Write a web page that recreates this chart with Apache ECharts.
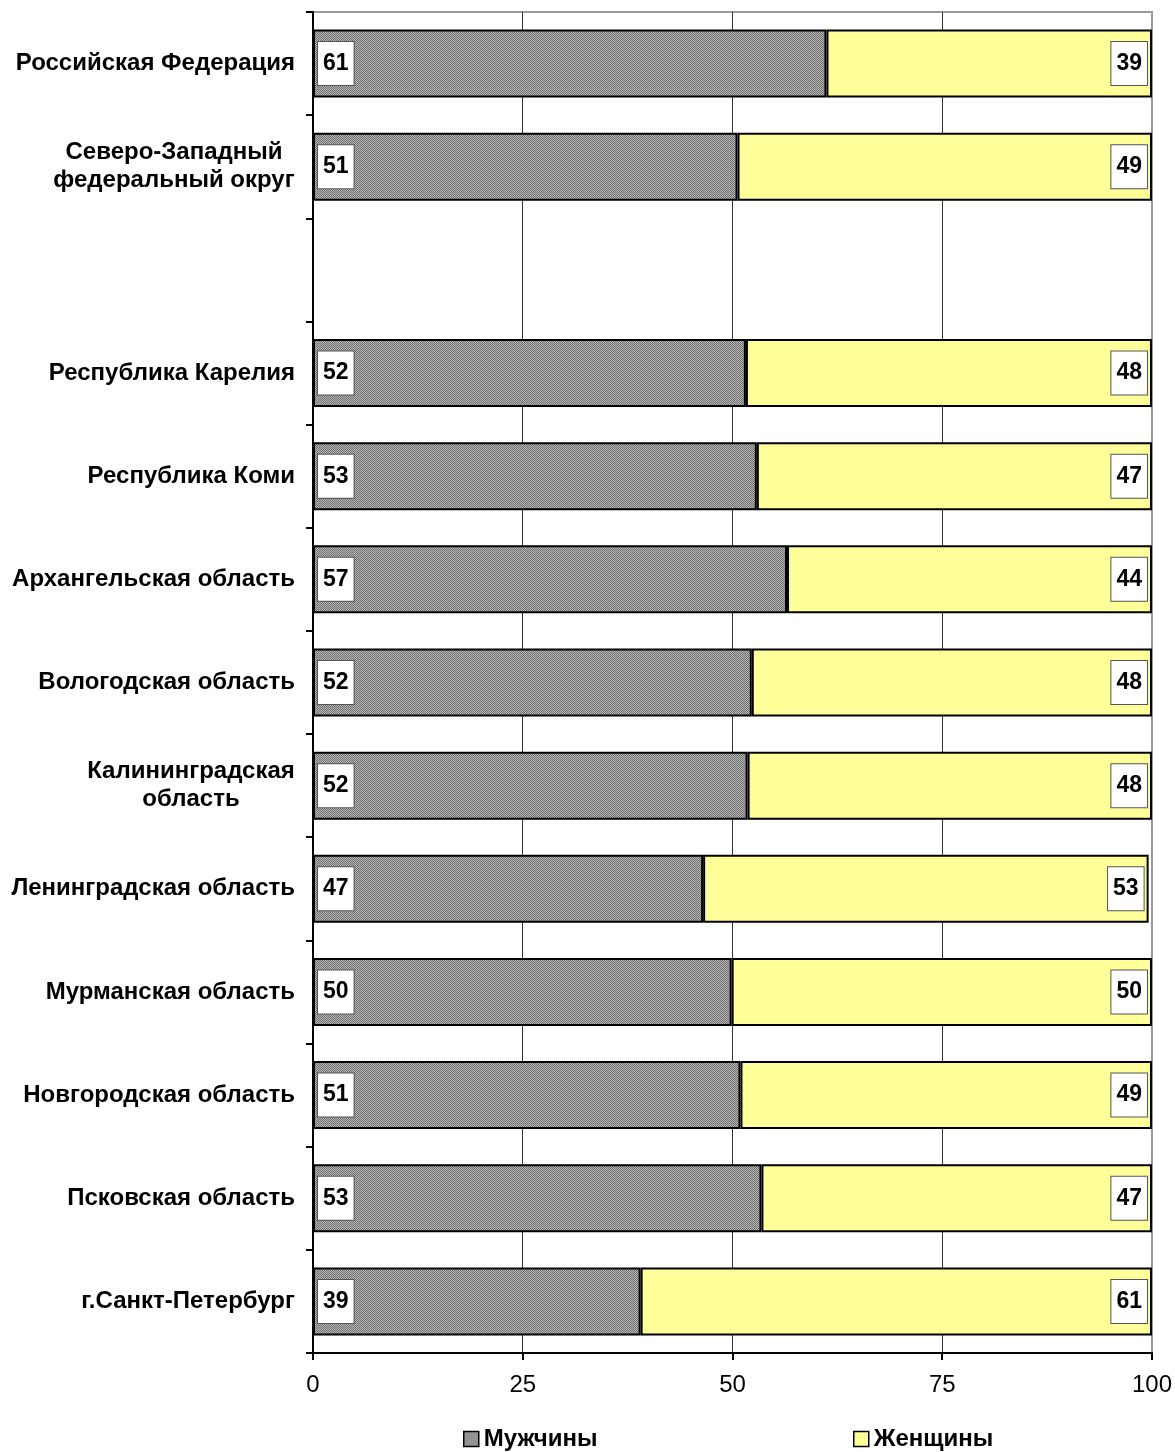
<!DOCTYPE html>
<html>
<head>
<meta charset="utf-8">
<script src="https://cdn.jsdelivr.net/npm/echarts@6/dist/echarts.min.js"></script>
<style>
html, body { margin: 0; padding: 0; background: #fff; }
#main { width: 1175px; height: 1452px; }
</style>
</head>
<body>
<div id="main"></div>
<script>
// категории (сверху вниз), пустая строка - разрыв
var categories = [
	'Российская Федерация',
	'Северо-Западный\nфедеральный округ',
	'',
	'Республика Карелия',
	'Республика Коми',
	'Архангельская область',
	'Вологодская область',
	'Калининградская\nобласть',
	'Ленинградская область',
	'Мурманская область',
	'Новгородская область',
	'Псковская область',
	'г.Санкт-Петербург'
];
var menValues = [61.2, 50.6, '-', 51.6, 52.9, 56.5, 52.3, 51.8, 46.5, 49.9, 50.95, 53.45, 39.05];
var womenValues = [38.8, 49.4, '-', 48.4, 47.1, 43.5, 47.7, 48.2, 53.1, 50.1, 49.05, 46.55, 60.95];
var xTicks = [0, 25, 50, 75, 100];

var FONT = '"Liberation Sans", Arial, sans-serif';

// точечная заливка для мужчин
function makePattern() {
	var c = document.createElement('canvas');
	c.width = 2; c.height = 2;
	var ctx = c.getContext('2d');
	ctx.fillStyle = '#b4b4b4';
	ctx.fillRect(0, 0, 2, 2);
	ctx.fillStyle = '#727272';
	ctx.fillRect(0, 0, 1, 1);
	ctx.fillRect(1, 1, 1, 1);
	return c;
}
var menFill = { image: makePattern(), repeat: 'repeat' };

// многострочные подписи - строки по центру блока
var measureCtx = document.createElement('canvas').getContext('2d');
measureCtx.font = 'bold 24px ' + FONT;
var rich = {};
categories.forEach(function (name, i) {
	if (name.indexOf('\n') >= 0) {
		var w = 0;
		name.split('\n').forEach(function (s) {
			w = Math.max(w, measureCtx.measureText(s).width);
		});
		rich['c' + i] = { width: Math.ceil(w), align: 'center', fontWeight: 'bold', fontSize: 24, fontFamily: FONT, color: '#000', lineHeight: 28 };
	}
});

var labelBox = {
	show: true,
	formatter: function (p) { return Math.round(p.value); },
	color: '#000',
	fontWeight: 'bold',
	fontSize: 23,
	fontFamily: FONT,
	lineHeight: 24,
	backgroundColor: '#fff',
	borderColor: '#555',
	borderWidth: 1,
	padding: [10, 5, 9, 5],
	distance: 5
};

var legendText = { fontWeight: 'bold', fontSize: 24, fontFamily: FONT, color: '#000' };

var myChart = echarts.init(document.getElementById('main'));

var option = {
	backgroundColor: '#fff',
	animation: false,
	grid: {
		left: 313,
		right: 22,
		top: 12,
		bottom: 99,
		show: true,
		borderColor: '#999',
		borderWidth: 2,
		containLabel: false
	},
	legend: [
		{
			data: ['Мужчины'],
			left: 458,
			top: 1422,
			icon: 'rect',
			itemWidth: 15,
			itemHeight: 15,
			itemGap: 4,
			itemStyle: { borderColor: '#000', borderWidth: 1.5 },
			textStyle: legendText
		},
		{
			data: ['Женщины'],
			left: 848,
			top: 1422,
			icon: 'rect',
			itemWidth: 15,
			itemHeight: 15,
			itemStyle: { borderColor: '#000', borderWidth: 1.5 },
			textStyle: legendText
		}
	],
	xAxis: {
		type: 'value',
		min: 0,
		max: 100,
		interval: 25,
		axisLine: { show: true, lineStyle: { color: '#000', width: 2 } },
		axisTick: { show: true, length: 7, lineStyle: { color: '#000', width: 2 } },
		axisLabel: {
			margin: 20,
			color: '#000',
			fontSize: 24,
			fontFamily: FONT,
			formatter: function (v) { return xTicks.indexOf(v) >= 0 ? String(v) : ''; }
		},
		splitLine: { show: true, lineStyle: { color: ['#333', '#333', '#333', '#333', '#999'], width: 1 } }
	},
	yAxis: {
		type: 'category',
		inverse: true,
		data: categories,
		axisLine: { show: true, lineStyle: { color: '#000', width: 2 } },
		axisTick: { show: true, length: 7, alignWithLabel: false, lineStyle: { color: '#000', width: 2 } },
		axisLabel: {
			margin: 18,
			color: '#000',
			fontWeight: 'bold',
			fontSize: 24,
			fontFamily: FONT,
			lineHeight: 28,
			rich: rich,
			formatter: function (value, idx) {
				if (value.indexOf('\n') >= 0) {
					return value.split('\n').map(function (s) { return '{c' + idx + '|' + s + '}'; }).join('\n');
				}
				return value;
			}
		},
		splitLine: { show: false }
	},
	series: [
		{
			name: 'Мужчины',
			type: 'bar',
			stack: 'all',
			barWidth: 68,
			data: menValues,
			itemStyle: { color: menFill, borderColor: '#000', borderWidth: 2 },
			label: Object.assign({ position: 'insideLeft' }, labelBox)
		},
		{
			name: 'Женщины',
			type: 'bar',
			stack: 'all',
			barWidth: 68,
			data: womenValues,
			itemStyle: { color: '#ffff99', borderColor: '#000', borderWidth: 2 },
			label: Object.assign({ position: 'insideRight' }, labelBox)
		}
	]
};

myChart.setOption(option);

window.addEventListener('resize', function () {
	myChart.resize();
});
</script>
</body>
</html>
